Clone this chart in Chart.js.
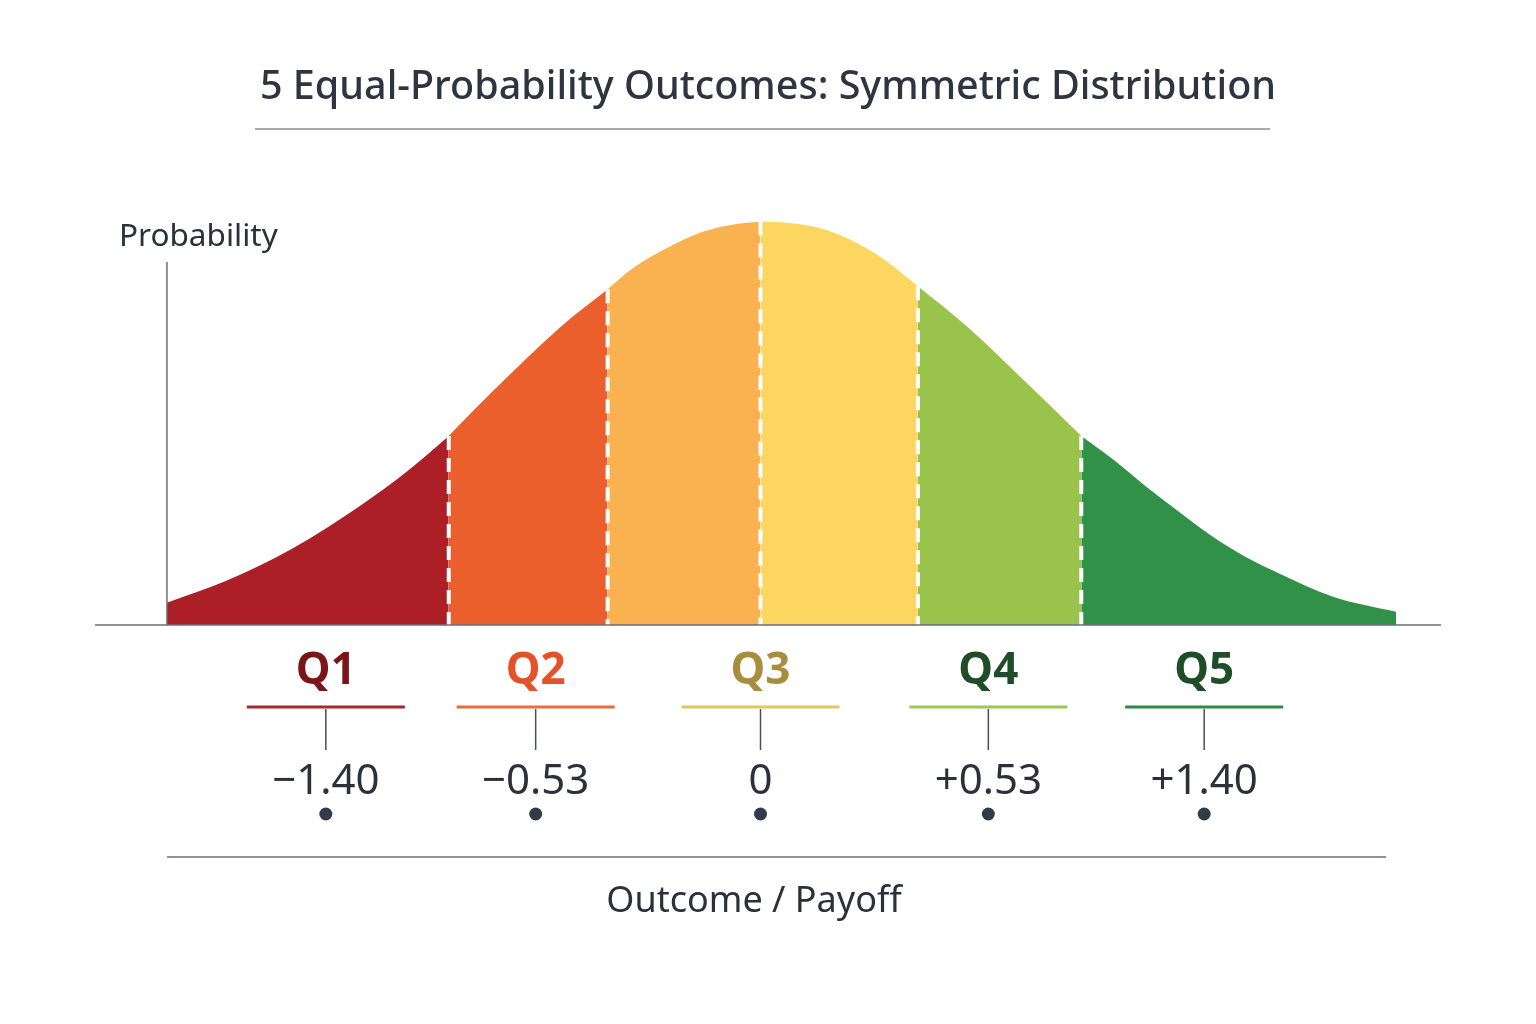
<!DOCTYPE html>
<html>
<head>
<meta charset="utf-8">
<script src="https://cdn.jsdelivr.net/npm/chart.js@4/dist/chart.umd.min.js"></script>
<style>
  html, body { margin: 0; padding: 0; background: #ffffff; }
  #wrap { width: 1536px; height: 1024px; position: relative; }
</style>
</head>
<body>
<div id="wrap"><canvas id="dist"></canvas></div>
<script>
// curve (outcome units, probability density)
const curveX = [-1.98, -1.78, -1.56, -1.34, -1.17, -1.04, -0.89, -0.67, -0.51, -0.425, -0.31, -0.20, -0.09, 0, 0.075, 0.19, 0.30, 0.41, 0.525, 0.69, 0.91, 1.07, 1.18, 1.29, 1.40, 1.51, 1.62, 1.73, 1.91, 2.12];
const curveY = [0.022, 0.044, 0.076, 0.117, 0.154, 0.187, 0.232, 0.294, 0.332, 0.353, 0.373, 0.388, 0.396, 0.399, 0.398, 0.393, 0.381, 0.362, 0.335, 0.295, 0.233, 0.187, 0.163, 0.136, 0.111, 0.087, 0.067, 0.051, 0.028, 0.013];

// coloured bands and their edges
const bandEdges = [-1.98, -1.04, -0.51, 0, 0.525, 1.07, 2.12];
const bandColors = ['#ad1f27', '#eb5f2d', '#f9b24f', '#fdd561', '#9ac34b', '#329148'];

// quintile labels below the axis
const quintiles = ['Q1', 'Q2', 'Q3', 'Q4', 'Q5'];
const qCenters = [-1.45, -0.75, 0, 0.76, 1.48];
const qValues = ['\u22121.40', '\u22120.53', '0', '+0.53', '+1.40'];
const qTextColors = ['#7c1517', '#e5522a', '#a88d3c', '#1f4d27', '#1f4d27'];
const qLineColors = ['#a8262b', '#ee6a3a', '#e2c75c', '#9bc84e', '#2e8a45'];

const FONT = "'Noto Sans', 'Open Sans', sans-serif";
const INK = '#2b303b';

function bandData(i) {
  const pts = [];
  for (let k = 0; k < curveX.length; k++) {
    if (curveX[k] >= bandEdges[i] && curveX[k] <= bandEdges[i + 1]) {
      pts.push({ x: curveX[k], y: curveY[k] });
    }
  }
  return pts;
}

const datasets = bandColors.map((c, i) => ({
  data: bandData(i),
  backgroundColor: c,
  borderWidth: 0,
  pointRadius: 0,
  fill: 'origin',
  cubicInterpolationMode: 'monotone'
}));

function heightAt(x) {
  return curveY[curveX.indexOf(x)];
}

const decor = {
  id: 'decor',
  afterDatasetsDraw(chart) {
    const { ctx, scales: { x, y }, chartArea } = chart;
    const base = y.getPixelForValue(0);
    ctx.save();
    // white dashed separators between bands
    ctx.strokeStyle = '#ffffff';
    ctx.lineWidth = 4;
    ctx.setLineDash([14, 8]);
    for (let i = 1; i < bandEdges.length - 1; i++) {
      const px = x.getPixelForValue(bandEdges[i]);
      ctx.beginPath();
      ctx.moveTo(px, y.getPixelForValue(heightAt(bandEdges[i])));
      ctx.lineTo(px, base);
      ctx.stroke();
    }
    ctx.setLineDash([]);

    // axes
    ctx.strokeStyle = '#6b6f78';
    ctx.lineWidth = 1.5;
    ctx.beginPath();
    ctx.moveTo(chartArea.left, base);
    ctx.lineTo(chartArea.right, base);
    const yAxisX = x.getPixelForValue(bandEdges[0]);
    ctx.moveTo(yAxisX, base);
    ctx.lineTo(yAxisX, 262);
    ctx.stroke();

    ctx.fillStyle = INK;
    ctx.font = '31.5px ' + FONT;
    ctx.textAlign = 'left';
    ctx.textBaseline = 'middle';
    ctx.fillText('Probability', 119, 237);

    // title underline
    ctx.strokeStyle = '#8a8d94';
    ctx.lineWidth = 1.5;
    ctx.beginPath();
    ctx.moveTo(255, 129);
    ctx.lineTo(1270, 129);
    ctx.stroke();

    // quintile markers
    ctx.textAlign = 'center';
    quintiles.forEach((q, i) => {
      const px = x.getPixelForValue(qCenters[i]);
      ctx.fillStyle = qTextColors[i];
      ctx.font = 'bold 44px ' + FONT;
      ctx.fillText(q, px, 671);

      ctx.strokeStyle = qLineColors[i];
      ctx.lineWidth = 3;
      ctx.beginPath();
      ctx.moveTo(px - 79, 707);
      ctx.lineTo(px + 79, 707);
      ctx.stroke();

      ctx.strokeStyle = '#4a4e57';
      ctx.lineWidth = 1.5;
      ctx.beginPath();
      ctx.moveTo(px, 709);
      ctx.lineTo(px, 750);
      ctx.stroke();

      ctx.fillStyle = INK;
      ctx.font = '42px ' + FONT;
      ctx.fillText(qValues[i], px, 782);

      ctx.fillStyle = '#333a48';
      ctx.beginPath();
      ctx.arc(px, 814, 6.5, 0, Math.PI * 2);
      ctx.fill();
    });

    // lower rule and axis title
    ctx.strokeStyle = '#6b6f78';
    ctx.lineWidth = 1.5;
    ctx.beginPath();
    ctx.moveTo(167, 857);
    ctx.lineTo(1386, 857);
    ctx.stroke();

    ctx.fillStyle = INK;
    ctx.font = '36px ' + FONT;
    ctx.fillText('Outcome / Payoff', 754, 902);
    ctx.restore();
  }
};

new Chart(document.getElementById('dist'), {
  type: 'line',
  data: { datasets: datasets },
  options: {
    responsive: true,
    maintainAspectRatio: false,
    animation: false,
    layout: { padding: { top: 0, left: 95, right: 95, bottom: 399 } },
    plugins: {
      legend: { display: false },
      tooltip: { enabled: false },
      title: {
        display: true,
        text: '5 Equal-Probability Outcomes: Symmetric Distribution',
        color: '#2f3440',
        font: { family: FONT, size: 39.5, weight: '500', lineHeight: 1.2 },
        padding: { top: 64, bottom: 68.6 }
      }
    },
    scales: {
      x: { type: 'linear', min: -2.22, max: 2.27, display: false },
      y: { min: 0, max: 0.44, display: false }
    }
  },
  plugins: [decor]
});
</script>
</body>
</html>
